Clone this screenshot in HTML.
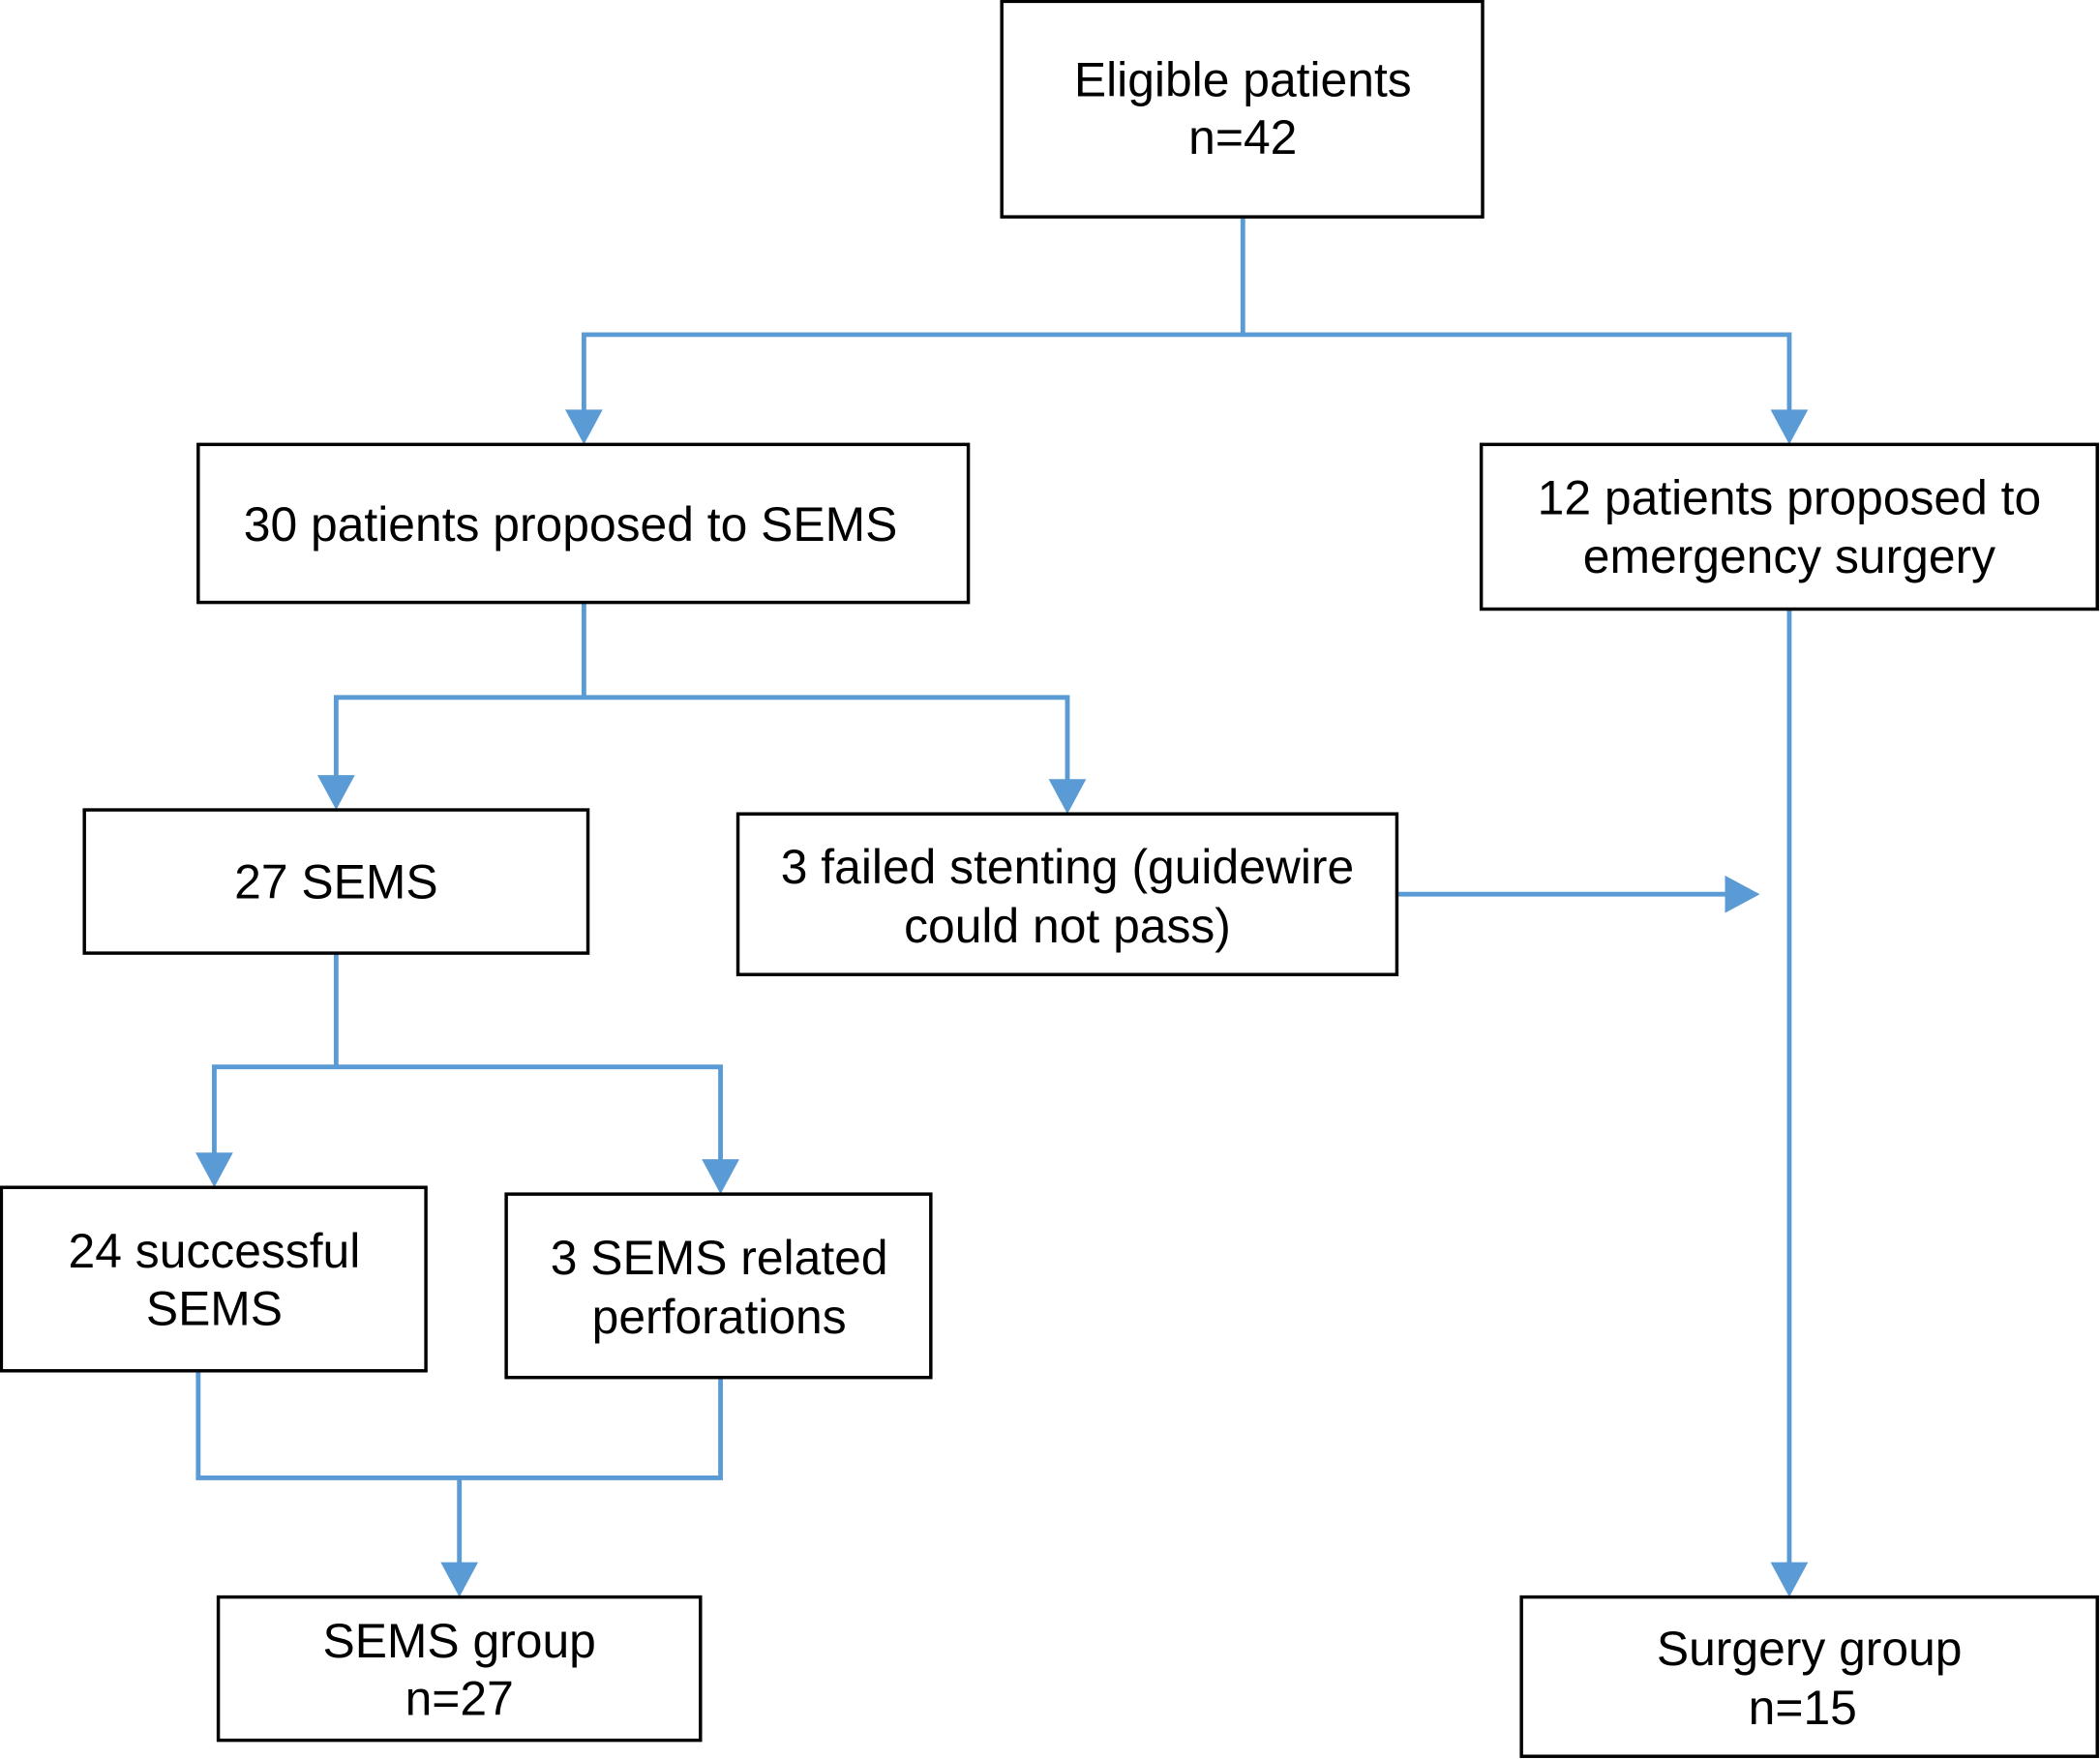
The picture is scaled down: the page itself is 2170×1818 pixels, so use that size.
<!DOCTYPE html>
<html><head><meta charset="utf-8"><style>
html,body{margin:0;padding:0;background:#fff;}
svg{display:block;}
text{font-family:"Liberation Sans",Arial,sans-serif;font-size:36px;fill:#000;text-anchor:middle;}
</style></head><body>
<svg width="2170" height="1818" viewBox="0 0 1568 1314" preserveAspectRatio="none" xmlns="http://www.w3.org/2000/svg">
<g fill="none" stroke="#5B9BD5" stroke-width="3.5">
<polyline points="928,162 928,250"/>
<polyline points="436,310 436,250 1336,250 1336,310"/>
<polyline points="436,450 436,521"/>
<polyline points="251,583 251,521 797,521 797,586"/>
<polyline points="1043,668 1290,668"/>
<polyline points="1336,455 1336,1171"/>
<polyline points="251,712 251,797"/>
<polyline points="160,865 160,797 538,797 538,870"/>
<polyline points="148,1024 148,1104 538,1104 538,1029"/>
<polyline points="343,1104 343,1171"/>
</g>
<g fill="#5B9BD5">
<polygon points="422,306 450,306 436,332"/>
<polygon points="1322,306 1350,306 1336,332"/>
<polygon points="237,579 265,579 251,605"/>
<polygon points="783,582 811,582 797,608"/>
<polygon points="1288,654 1288,682 1314,668"/>
<polygon points="1322,1167 1350,1167 1336,1193"/>
<polygon points="146,861 174,861 160,887"/>
<polygon points="524,866 552,866 538,892"/>
<polygon points="329,1167 357,1167 343,1193"/>
</g>
<g fill="#fff" stroke="#000" stroke-width="2.5">
<rect x="748" y="1" width="359" height="161"/>
<rect x="148" y="332" width="575" height="118"/>
<rect x="1106" y="332" width="460" height="123"/>
<rect x="63" y="605" width="376" height="107"/>
<rect x="551" y="608" width="492" height="120"/>
<rect x="1" y="887" width="317" height="137"/>
<rect x="378" y="892" width="317" height="137"/>
<rect x="163" y="1193" width="360" height="107"/>
<rect x="1136" y="1193" width="430" height="119"/>
</g>
<text x="928" y="72">Eligible patients</text>
<text x="928" y="115">n=42</text>
<text x="426" y="404">30 patients proposed to SEMS</text>
<text x="1336" y="384">12 patients proposed to</text>
<text x="1336" y="428">emergency surgery</text>
<text x="251" y="671">27 SEMS</text>
<text x="797" y="660">3 failed stenting (guidewire</text>
<text x="797" y="704">could not pass)</text>
<text x="160" y="947">24 successful</text>
<text x="160" y="990">SEMS</text>
<text x="537" y="952">3 SEMS related</text>
<text x="537" y="996">perforations</text>
<text x="343" y="1238">SEMS group</text>
<text x="343" y="1281">n=27</text>
<text x="1351" y="1244">Surgery group</text>
<text x="1346" y="1288">n=15</text>
</svg>
</body></html>
